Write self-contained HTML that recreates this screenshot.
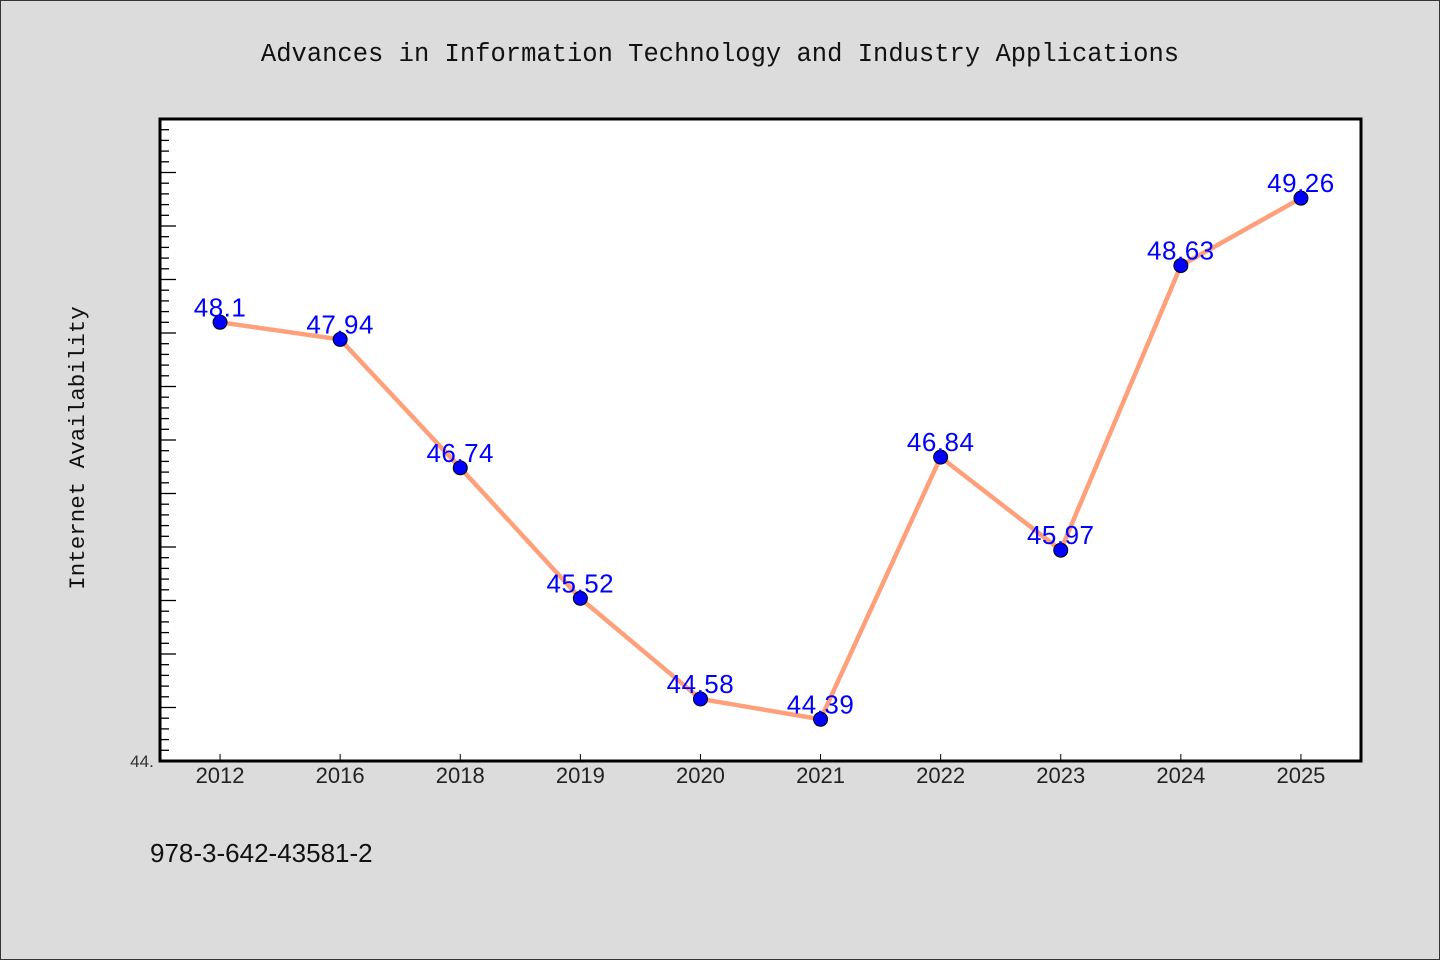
<!DOCTYPE html>
<html><head><meta charset="utf-8"><style>
html,body{margin:0;padding:0;background:#dcdcdc;}
svg{display:block;}
</style></head><body>
<svg id="chart" width="1440" height="960" xmlns="http://www.w3.org/2000/svg">
<rect x="0.5" y="0.5" width="1439" height="959" fill="#dcdcdc" stroke="#333"/>
<text x="720" y="61" text-anchor="middle" font-family="Liberation Mono, monospace" font-size="25.5" fill="#111">Advances in Information Technology and Industry Applications</text>
<rect x="160" y="119" width="1201" height="642" fill="#fff"/>
<g id="yticks"></g>
<g id="xticks"></g>
<polyline id="line" fill="none" stroke="#ffa07a" stroke-width="4.5" stroke-linejoin="round"/>
<g id="points"></g>
<rect x="160" y="119" width="1201" height="642" fill="none" stroke="#000" stroke-width="3"/>
<text x="142" y="767" text-anchor="middle" font-family="Liberation Sans, sans-serif" font-size="17" fill="#333">44.</text>
<text transform="translate(84,448) rotate(-90)" text-anchor="middle" font-family="Liberation Mono, monospace" font-size="22.5" fill="#111">Internet Availability</text>
<text x="150" y="862" font-family="Liberation Sans, sans-serif" font-size="26" fill="#111">978-3-642-43581-2</text>
</svg>
<script>
const categories = ["2012","2016","2018","2019","2020","2021","2022","2023","2024","2025"];
const values = [48.1,47.94,46.74,45.52,44.58,44.39,46.84,45.97,48.63,49.26];
const labels = ["48.1","47.94","46.74","45.52","44.58","44.39","46.84","45.97","48.63","49.26"];
const yMin = 44, yMax = 50;
const NS="http://www.w3.org/2000/svg";
const L=160,T=119,W=1201,H=642;
const xs=i=>L+W/categories.length*(i+0.5);
const ys=v=>T+H-(v-yMin)/(yMax-yMin)*H;
function mk(tag,attrs,parent){const e=document.createElementNS(NS,tag);for(const k in attrs)e.setAttribute(k,attrs[k]);parent.appendChild(e);return e;}
const yt=document.getElementById('yticks');
for(let k=0;k<=60;k++){const v=yMin+k*0.1;const y=ys(v);const len=(k%5===0)?16:9;
 const t=mk('line',{x1:L,x2:L+len,y1:y,y2:y,stroke:'#000','stroke-width':1.3},yt);
 
 }
const xt=document.getElementById('xticks');
categories.forEach((c,i)=>{const x=xs(i);
 const t=mk('line',{x1:x,x2:x,y1:T+H,y2:T+H-7,stroke:'#000','stroke-width':1},xt);
 
 
 const tx=mk('text',{x:x,y:783,'text-anchor':'middle','font-family':'Liberation Sans, sans-serif','font-size':22,fill:'#222'},xt);
 tx.textContent=c;
 
 });
document.getElementById('line').setAttribute('points',values.map((v,i)=>xs(i)+','+ys(v)).join(' '));
const pg=document.getElementById('points');
values.forEach((v,i)=>{
 const c=mk('circle',{cx:xs(i),cy:ys(v),r:7,fill:'#0000ff',stroke:'#000','stroke-width':1},pg);
 
 
 const t=mk('text',{x:xs(i),y:ys(v)-6,'text-anchor':'middle','font-family':'Liberation Sans, sans-serif','font-size':26,fill:'#0000ff','letter-spacing':'0.5'},pg);
 t.textContent=labels[i];
 
 });
</script>
</body></html>
